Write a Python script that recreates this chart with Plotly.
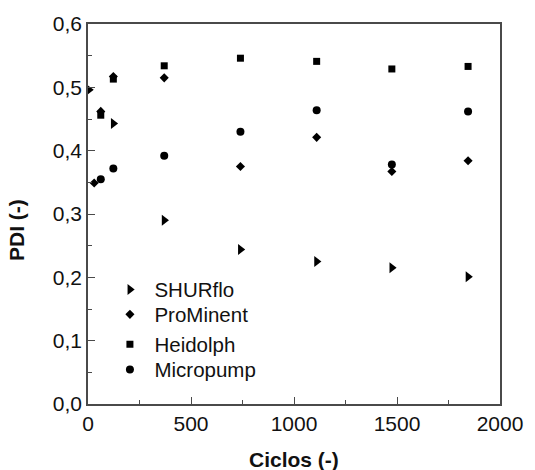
import plotly.graph_objects as go

# Data
shurflo_x = [5, 123, 370, 740, 1110, 1475, 1845]
shurflo_y = [0.496, 0.443, 0.290, 0.244, 0.225, 0.215, 0.201]

prominent_x = [30, 62, 123, 370, 740, 1110, 1475, 1845]
prominent_y = [0.349, 0.462, 0.517, 0.515, 0.375, 0.421, 0.367, 0.384]

heidolph_x = [62, 123, 370, 740, 1110, 1475, 1845]
heidolph_y = [0.456, 0.513, 0.534, 0.546, 0.541, 0.529, 0.533]

micropump_x = [62, 123, 370, 740, 1110, 1475, 1845]
micropump_y = [0.355, 0.372, 0.392, 0.430, 0.464, 0.378, 0.462]

x_ticks = [0, 500, 1000, 1500, 2000]
y_ticks = [0.0, 0.1, 0.2, 0.3, 0.4, 0.5, 0.6]

FONT = "Liberation Sans, Arial, sans-serif"
INK = "#111111"
AXIS = "#4a4a4a"

# plot area in pixels (for placing the legend rows)
PL, PR, PT, PB = 88, 509, 23, 404
legend_rows_px = [289.3, 314.3, 344.3, 369.5]

fig = go.Figure()
series = [
    ("SHURflo", shurflo_x, shurflo_y, "triangle-right", 9.5),
    ("ProMinent", prominent_x, prominent_y, "diamond", 7),
    ("Heidolph", heidolph_x, heidolph_y, "square", 7),
    ("Micropump", micropump_x, micropump_y, "circle", 8),
]
legend_names = ["legend", "legend2", "legend3", "legend4"]
for (name, xs, ys, sym, sz), lg in zip(series, legend_names):
    fig.add_trace(go.Scatter(
        x=xs, y=ys, mode="markers", name=name, legend=lg,
        marker=dict(symbol=sym, size=sz, color="black", line=dict(width=0)),
        cliponaxis=True,
    ))

legend_layout = {}
for lg, ypx in zip(legend_names, legend_rows_px):
    legend_layout[lg] = dict(
        x=(105.8 - PL) / (PR - PL), y=(PB - ypx) / (PB - PT),
        xanchor="left", yanchor="middle",
        bgcolor="rgba(0,0,0,0)", borderwidth=0,
        font=dict(family=FONT, size=20.5, color=INK),
        itemwidth=39,
    )

fig.update_layout(
    width=535, height=470,
    margin=dict(l=PL, r=535 - PR, t=PT, b=470 - PB),
    paper_bgcolor="white", plot_bgcolor="white",
    separators=",.",
    font=dict(family=FONT, size=21, color=INK),
    showlegend=True,
    xaxis=dict(
        range=[0, 2000], tickvals=x_ticks, ticktext=[str(v) for v in x_ticks],
        ticks="inside", ticklen=7, tickwidth=1.3, tickcolor=AXIS,
        minor=dict(ticks="inside", ticklen=4, dtick=250, tickcolor=AXIS, tickwidth=1.3, showgrid=False),
        showline=True, linecolor=AXIS, linewidth=1.6, mirror=True,
        showgrid=False, zeroline=False,
        tickfont=dict(family=FONT, size=21, color=INK),
    ),
    yaxis=dict(
        range=[0, 0.6], tickvals=y_ticks, tickformat=".1f",
        ticks="inside", ticklen=7, tickwidth=1.3, tickcolor=AXIS,
        minor=dict(ticks="inside", ticklen=4, dtick=0.05, tickcolor=AXIS, tickwidth=1.3, showgrid=False),
        showline=True, linecolor=AXIS, linewidth=1.6, mirror=True,
        showgrid=False, zeroline=False,
        tickfont=dict(family=FONT, size=21, color=INK),
    ),
    annotations=[
        dict(text="<b>Ciclos (-)</b>", xref="paper", yref="paper",
             x=0.4988, y=-0.147, xanchor="center", yanchor="middle",
             showarrow=False, font=dict(family=FONT, size=21, color=INK)),
        dict(text="<b>PDI (-)</b>", xref="paper", yref="paper",
             x=-0.1734, y=0.4567, xanchor="center", yanchor="middle", textangle=-90,
             showarrow=False, font=dict(family=FONT, size=21, color=INK)),
    ],
    **legend_layout,
)

fig.write_html("out.html")
